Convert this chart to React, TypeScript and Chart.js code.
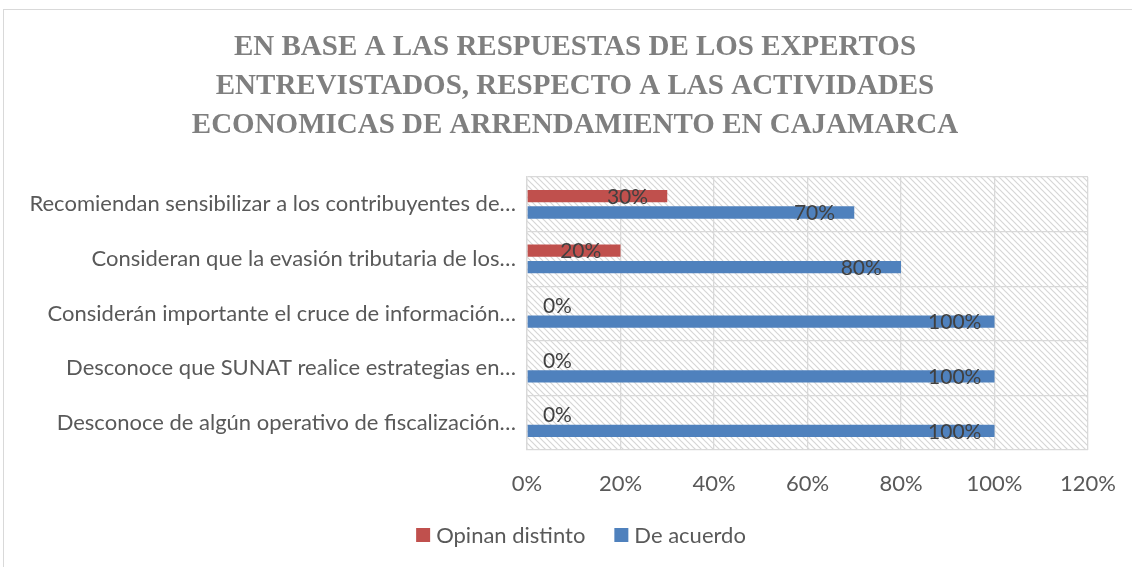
import React, { useEffect, useRef } from "react";
import { Chart, registerables } from "chart.js";

Chart.register(...registerables);

const categories = [
  "Recomiendan sensibilizar a los contribuyentes de…",
  "Consideran que la evasión tributaria de los…",
  "Considerán importante el cruce de información…",
  "Desconoce que SUNAT realice estrategias en…",
  "Desconoce de algún operativo de fiscalización…",
];
const opinanDistinto = [30, 20, 0, 0, 0];
const deAcuerdo = [70, 80, 100, 100, 100];
const xTicks = [0, 20, 40, 60, 80, 100, 120];
const titleLines = [
  "EN BASE A LAS RESPUESTAS DE LOS EXPERTOS",
  "ENTREVISTADOS, RESPECTO A LAS ACTIVIDADES",
  "ECONOMICAS DE ARRENDAMIENTO EN CAJAMARCA",
];

const RED = "#c0504d";
const BLUE = "#4f81bd";
const TEXT = "#595959";
const GRID = "#d9d9d9";
const FONT = "Lato";
const FS = 22;

function makePattern(ctx: CanvasRenderingContext2D) {
  const p = 6;
  const c = document.createElement("canvas");
  c.width = p;
  c.height = p;
  const g = c.getContext("2d")!;
  g.fillStyle = "#ffffff";
  g.fillRect(0, 0, p, p);
  g.strokeStyle = "#d6d6d6";
  g.lineWidth = 1.2;
  g.beginPath();
  g.moveTo(-1, -1);
  g.lineTo(p + 1, p + 1);
  g.moveTo(-2, p - 2);
  g.lineTo(2, p + 2);
  g.moveTo(p - 2, -2);
  g.lineTo(p + 2, 2);
  g.stroke();
  return ctx.createPattern(c, "repeat");
}

const hatchPlugin = {
  id: "hatchBg",
  beforeDraw(chart: any) {
    const { ctx, chartArea } = chart;
    const pat = makePattern(ctx);
    if (!pat) return;
    ctx.save();
    ctx.fillStyle = pat;
    ctx.fillRect(
      chartArea.left,
      chartArea.top,
      chartArea.right - chartArea.left,
      chartArea.bottom - chartArea.top
    );
    ctx.restore();
  },
};

const titlePlugin = {
  id: "customTitle",
  afterDraw(chart: any) {
    const { ctx } = chart;
    ctx.save();
    ctx.font = `bold 29px "Liberation Serif"`;
    ctx.fillStyle = "#7f7f7f";
    ctx.textAlign = "center";
    ctx.textBaseline = "middle";
    titleLines.forEach((line, i) => {
      ctx.fillText(line, 571, 38 + i * 39);
    });
    ctx.restore();
  },
};

const labelsPlugin = {
  id: "valueLabels",
  afterDatasetsDraw(chart: any) {
    const { ctx } = chart;
    const xs = chart.scales.x;
    ctx.save();
    ctx.font = `21px ${FONT}`;
    ctx.fillStyle = "#404040";
    ctx.textAlign = "center";
    ctx.textBaseline = "middle";
    chart.data.datasets.forEach((ds: any, di: number) => {
      const meta = chart.getDatasetMeta(di);
      meta.data.forEach((el: any, i: number) => {
        const v = ds.data[i];
        const x = xs.getPixelForValue(v === 0 ? 6.5 : v - 8.5);
        const y = el.y + 1;
        ctx.fillText(`${v}%`, x, y);
      });
    });
    ctx.restore();
  },
};

const legendPlugin = {
  id: "customLegend",
  afterDraw(chart: any) {
    const { ctx } = chart;
    const items = chart.data.datasets.map((d: any) => ({
      label: d.label,
      color: d.backgroundColor,
    }));
    ctx.save();
    ctx.font = `${FS}px ${FONT}`;
    ctx.textBaseline = "middle";
    const box = 14;
    const gapText = 6;
    const gapItem = 29;
    const widths = items.map(
      (it: any) => box + gapText + ctx.measureText(it.label).width
    );
    const total =
      widths.reduce((a: number, b: number) => a + b, 0) +
      gapItem * (items.length - 1);
    let x = 577 - total / 2;
    const y = 525;
    items.forEach((it: any, i: number) => {
      ctx.fillStyle = it.color;
      ctx.fillRect(x, y - box / 2, box, box);
      ctx.fillStyle = TEXT;
      ctx.textAlign = "left";
      ctx.fillText(it.label, x + box + gapText, y + 1);
      x += widths[i] + gapItem;
    });
    ctx.restore();
  },
};

export default function App() {
  const ref = useRef<HTMLCanvasElement>(null);
  useEffect(() => {
    document.body.style.overflow = "hidden";
    const chart = new Chart(ref.current!, {
      type: "bar",
      data: {
        labels: categories,
        datasets: [
          {
            label: "Opinan distinto",
            data: opinanDistinto,
            backgroundColor: RED,
            categoryPercentage: 0.6,
            barPercentage: 0.75,
          },
          {
            label: "De acuerdo",
            data: deAcuerdo,
            backgroundColor: BLUE,
            categoryPercentage: 0.6,
            barPercentage: 0.75,
          },
        ],
      },
      options: {
        indexAxis: "y",
        responsive: false,
        animation: false,
        devicePixelRatio: 1,
        layout: { padding: { left: 0, right: 44, top: 167, bottom: 55 } },
        plugins: {
          legend: { display: false },
          tooltip: { enabled: false },
          title: { display: false },
        },
        scales: {
          x: {
            min: 0,
            max: 120,
            afterBuildTicks: (s: any) => {
              s.ticks = xTicks.map((v) => ({ value: v }));
            },
            afterFit: (s: any) => {
              s.height = 62;
              s.paddingLeft = 0;
              s.paddingRight = 0;
            },
            grid: { color: GRID, lineWidth: 1.3, drawTicks: false },
            border: { display: false },
            ticks: {
              padding: 21,
              color: TEXT,
              font: { family: FONT, size: FS },
              callback: (v: any) => `${v}%`,
            },
          },
          y: {
            afterFit: (s: any) => {
              s.width = 523;
              s.paddingTop = 0;
              s.paddingBottom = 0;
            },
            grid: { color: GRID, lineWidth: 1.3, drawTicks: false },
            border: { color: GRID, width: 1.3 },
            ticks: {
              padding: 11,
              color: TEXT,
              font: { family: FONT, size: FS },
              autoSkip: false,
            },
          },
        },
      },
      plugins: [hatchPlugin, labelsPlugin, legendPlugin, titlePlugin],
    } as any);
    return () => chart.destroy();
  }, []);
  return (
    <div
      style={{
        position: "absolute",
        left: 3,
        top: 9,
        width: 1129,
        height: 558,
        borderTop: "1px solid #d9d9d9",
        borderLeft: "1px solid #d9d9d9",
        overflow: "hidden",
        background: "#fff",
      }}
    >
      <canvas
        ref={ref}
        width={1128}
        height={557}
        style={{ display: "block", width: 1128, height: 557 }}
      />
    </div>
  );
}
